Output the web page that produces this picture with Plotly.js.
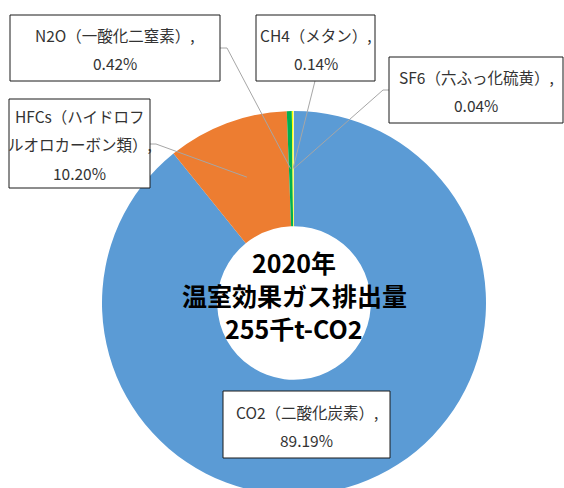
<!DOCTYPE html>
<html>
<head>
<meta charset="utf-8">
<script src="https://cdn.plot.ly/plotly-3.0.1.min.js"></script>
<style>html,body{margin:0;padding:0;overflow:hidden;background:#fff}</style>
</head>
<body>
<div id="chart" style="width:564px;height:500px"></div>
<script>
// Greenhouse gas emissions 2020, share by gas
const gases = ['CO2（二酸化炭素）', 'HFCs（ハイドロフルオロカーボン類）', 'N2O（一酸化二窒素）', 'CH4（メタン）', 'SF6（六ふっ化硫黄）'];
const shares = [89.19, 10.20, 0.42, 0.14, 0.04];
const shareLabels = ['89.19%', '10.20%', '0.42%', '0.14%', '0.04%'];
const wrapAt = [0, 10, 0, 0, 0]; // where a label name wraps onto a new line (0 = no wrap)
const sliceColors = ['#5B9BD5', '#ED7D31', '#00B050', '#FFFF00', '#DEEBF7'];
const centerLines = ['2020年', '温室効果ガス排出量', '255千t-CO2'];

const W = 564, H = 500;
const cx = 294, cy = 303, rOut = 192, hole = 0.4;
const FONT = '"Noto Sans CJK JP", "Noto Sans", sans-serif';

// label boxes and leader line starts, in pixels
const boxes = [
    { x0: 223, y0: 391, x1: 390, y1: 458, lead: null },
    { x0: 9, y0: 99, x1: 150, y1: 188, lead: [[150, 144], [156, 144]] },
    { x0: 10, y0: 15, x1: 220, y1: 81, lead: [[220, 48], [227, 48]] },
    { x0: 256, y0: 15, x1: 375, y1: 81, lead: [[315, 81]] },
    { x0: 389, y0: 57, x1: 563, y1: 123, lead: [[389, 90], [383, 90]] }
];

const px = (x) => x / W;
const py = (y) => 1 - y / H;

const total = shares.reduce((a, b) => a + b, 0);
const rMid = rOut * (1 + hole) / 2;
let cum = 0;
const shapes = [];
const annotations = [];

shares.forEach((v, i) => {
    const theta = 2 * Math.PI * (cum + v / 2) / total;
    cum += v;
    const tip = [cx + rMid * Math.sin(theta), cy - rMid * Math.cos(theta)];
    const b = boxes[i];

    if (b.lead) {
        const pts = b.lead.concat([tip]);
        const path = pts.map((p, k) => (k ? 'L' : 'M') + px(p[0]).toFixed(4) + ',' + py(p[1]).toFixed(4)).join(' ');
        shapes.push({ type: 'path', xref: 'paper', yref: 'paper', path: path, line: { color: '#A6A6A6', width: 1 }, layer: 'above' });
    }

    const name = gases[i] + ',';
    const lines = wrapAt[i] ? [name.slice(0, wrapAt[i]), name.slice(wrapAt[i])] : [name];
    lines.push(shareLabels[i]);

    const gap = 28;
    const mid = (b.y0 + b.y1) / 2 + 1;
    lines.forEach((t, k) => {
        annotations.push({
            xref: 'paper', yref: 'paper',
            x: px((b.x0 + b.x1) / 2), y: py(mid + (k - (lines.length - 1) / 2) * gap),
            xanchor: 'center', yanchor: 'middle',
            text: t, showarrow: false,
            font: { family: FONT, size: 15.5, color: '#333333' }
        });
    });
});

// boxes drawn after the leader lines
boxes.forEach((b) => {
    shapes.push({
        type: 'rect', xref: 'paper', yref: 'paper',
        x0: px(b.x0), x1: px(b.x1), y0: py(b.y1), y1: py(b.y0),
        fillcolor: '#FFFFFF', line: { color: '#1a1a1a', width: 1 }, layer: 'above'
    });
});

// center title
centerLines.forEach((t, k) => {
    annotations.push({
        xref: 'paper', yref: 'paper',
        x: px(cx), y: py(262 + k * 33),
        xanchor: 'center', yanchor: 'middle',
        text: '<b>' + t + '</b>', showarrow: false,
        font: { family: FONT, size: 25, color: '#000000', weight: 'bold' }
    });
});

const trace = {
    type: 'pie',
    labels: gases,
    values: shares,
    sort: false,
    direction: 'clockwise',
    rotation: 0,
    hole: hole,
    textinfo: 'none',
    hoverinfo: 'label+percent',
    marker: { colors: sliceColors, line: { width: 0 } },
    domain: { x: [px(cx - rOut), px(cx + rOut)], y: [py(cy + rOut), py(cy - rOut)] },
    showlegend: false
};

const layout = {
    width: W,
    height: H,
    margin: { l: 0, r: 0, t: 0, b: 0 },
    paper_bgcolor: '#FFFFFF',
    showlegend: false,
    font: { family: FONT },
    shapes: shapes,
    annotations: annotations
};

Plotly.newPlot('chart', [trace], layout, { displayModeBar: false, staticPlot: true });
</script>
</body>
</html>
